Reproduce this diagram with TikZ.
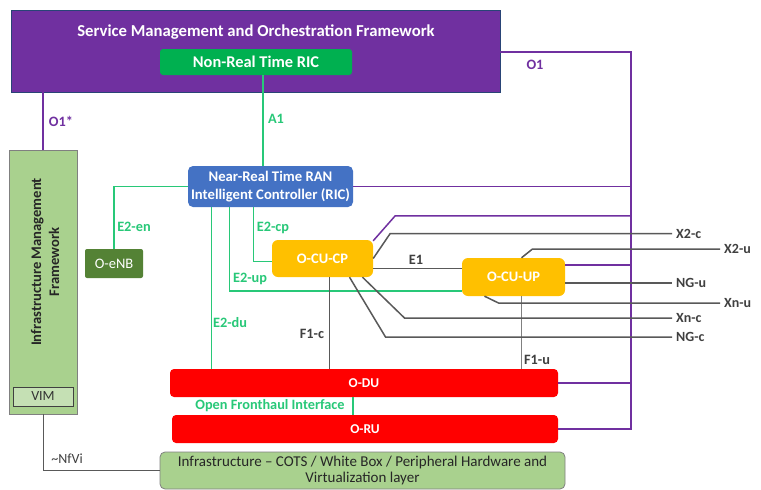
\documentclass[tikz,border=0pt]{standalone}
\usepackage{fontspec}
\setmainfont{Carlito}
\usetikzlibrary{calc}

\definecolor{smopurple}{HTML}{7030A0}
\definecolor{ricgreen}{HTML}{00B050}
\definecolor{ricblue}{HTML}{4472C4}
\definecolor{cugold}{HTML}{FFC000}
\definecolor{infragreen}{HTML}{A9D18E}
\definecolor{vimgreen}{HTML}{C5E0B4}
\definecolor{enbgreen}{HTML}{548235}
\definecolor{ifgreen}{RGB}{40,200,120}
\definecolor{ifgray}{HTML}{595959}
\definecolor{txtgray}{HTML}{404040}

\tikzset{
	box/.style={inner sep=0pt, text=white, align=center, font=\fontsize{14.5}{17.5}\selectfont\bfseries},
	purp/.style={draw=smopurple, line width=1.5pt},
	grn/.style={draw=ifgreen, line width=1.4pt},
	gry/.style={draw=ifgray, line width=1.5pt},
	lbl/.style={inner sep=1pt, font=\fontsize{14.3}{16}\selectfont\bfseries},
	rlbl/.style={anchor=west, inner sep=4pt, text=txtgray, font=\fontsize{14}{16}\selectfont\bfseries},
}

\begin{document}
\begin{tikzpicture}[x=1pt, y=-1pt]
			%%%%% START %%%%%
			\useasboundingbox (0,0) rectangle (761,490);
			\fill[white] (0,0) rectangle (761,490);
			
			\node[box, fill=smopurple, draw=ricblue!60!black, line width=0.6pt, minimum width=489pt, minimum height=82pt] (smo) at (255.5,51) {};
			\node[box, font=\fontsize{16.7}{19}\selectfont\bfseries] (smotitle) at (256,32) {Service Management and Orchestration Framework};
			\node[box, fill=ricgreen, rounded corners=3pt, minimum width=192pt, minimum height=26pt, font=\fontsize{16.4}{19}\selectfont\bfseries] (nrtric) at (256,62) {Non-Real Time RIC};
			
			\node[box, fill=infragreen, draw=gray, line width=0.8pt, minimum width=68pt, minimum height=264pt] (imf) at (43,282) {};
			\node[box, text=black!85, rotate=90, font=\fontsize{14.6}{18}\selectfont\bfseries] (imftext) at (45,262) {Infrastructure Management\\Framework};
			\node[box, fill=vimgreen, draw=black!75, line width=0.8pt, minimum width=60pt, minimum height=19pt, text=black!80, font=\fontsize{14}{16}\selectfont] (vim) at (43,396.5) {VIM};
			
			\node[box, fill=ricblue, rounded corners=5pt, minimum width=165pt, minimum height=41pt, font=\fontsize{14.7}{17.7}\selectfont\bfseries] (ric) at (270.5,186.5) {Near-Real Time RAN\\Intelligent Controller (RIC)};
			\node[box, fill=enbgreen, rounded corners=2pt, minimum width=58pt, minimum height=29pt, font=\fontsize{14.5}{17}\selectfont] (oenb) at (114,263.5) {O-eNB};
			
			\node[box, fill=cugold, rounded corners=6pt, minimum width=101pt, minimum height=37pt] (ocucp) at (322.5,258.5) {O-CU-CP};
			\node[box, fill=cugold, rounded corners=6pt, minimum width=103pt, minimum height=38pt] (ocuup) at (513.5,277) {O-CU-UP};
			
			\node[box, fill=red, rounded corners=4pt, minimum width=388pt, minimum height=28pt, font=\fontsize{13.5}{16}\selectfont\bfseries] (odu) at (364,383) {O-DU};
			\node[box, fill=red, rounded corners=4pt, minimum width=386pt, minimum height=28pt, font=\fontsize{13.5}{16}\selectfont\bfseries] (oru) at (365,429) {O-RU};
			\node[box, fill=infragreen, draw=gray, line width=0.8pt, rounded corners=5pt, minimum width=405pt, minimum height=37pt, text=black!85, font=\fontsize{15}{16.7}\selectfont] (infra) at (362.5,470.5) {Infrastructure -- COTS / White Box / Peripheral Hardware and\\Virtualization layer};
			
			% O1 bus
			\coordinate (bustop) at (631,52);
			\draw[purp] (smo.south -| imf.north) -- (imf.north);
			\draw[purp] (smo.east |- bustop) -- (bustop) -- (bustop |- oru.east) -- (oru.east);
			\draw[purp] (odu.east) -- (odu.east -| bustop);
			\draw[purp] (ric.east) -- (ric.east -| bustop);
			\draw[purp] ([yshift=-1pt]ocucp.north east) -- ++(22,-25) coordinate (cpk) -- (cpk -| bustop);
			\draw[purp] ([yshift=12pt]ocuup.east) -- ([yshift=12pt]ocuup.east -| bustop);
			
			% E2 and A1
			\draw[grn] ([xshift=7pt]nrtric.south) -- ([xshift=7pt]nrtric.south |- ric.north);
			\draw[grn] (ric.west) -| (oenb.north);
			\draw[grn] ([xshift=-17pt]ric.south) |- ([yshift=-3pt]ocucp.west);
			\draw[grn] ([xshift=-41pt]ric.south) |- ([yshift=-14pt]ocuup.west);
			\draw[grn] ([xshift=-59pt]ric.south) -- ([xshift=-59pt]ric.south |- odu.north);
			\draw[grn] (odu.south -| 353,0) -- (oru.north -| 353,0);
			
			% right hand labels
			\node[rlbl] (x2c) at (672,233.5) {X2-c};
			\node[rlbl] (x2u) at (720,249) {X2-u};
			\node[rlbl] (ngu) at (672,283) {NG-u};
			\node[rlbl] (xnu) at (720,303) {Xn-u};
			\node[rlbl] (xnc) at (672,318) {Xn-c};
			\node[rlbl] (ngc) at (672,337) {NG-c};
			
			% F1, E1, X2, Xn, NG
			\draw[gry] ([yshift=-10pt]ocucp.east) -- ([yshift=-10pt]ocucp.east -| ocuup.west);
			\draw[gry] ([xshift=7pt]ocucp.south) -- ([xshift=7pt]ocucp.south |- odu.north);
			\draw[gry, draw=gray] ([xshift=8pt]ocuup.south) -- ([xshift=8pt]ocuup.south |- odu.north);
			\draw[gry] (ocucp.east) -- ([xshift=17pt]ocucp.east |- x2c.west) -- (x2c.west);
			\draw[gry] ([xshift=8pt]ocuup.north) -- ([xshift=19pt]ocuup.north |- x2u.west) -- (x2u.west);
			\draw[gry, line width=2.2pt] ([yshift=-6pt]ocuup.east) -- (ngu.west);
			\draw[gry] ([xshift=-29pt]ocuup.south) -- ([xshift=-15pt]ocuup.south |- xnu.west) -- (xnu.west);
			\draw[gry] ([xshift=40pt]ocucp.south) -- ([xshift=82pt]ocucp.south |- xnc.west) -- (xnc.west);
			\draw[gry] ([xshift=27pt]ocucp.south) -- ([xshift=63pt]ocucp.south |- ngc.west) -- (ngc.west);
			
			\draw[gry, line width=1pt] (imf.south) |- (infra.west);
			
			% link labels
			\node[lbl, text=smopurple] (lo1s) at (61,121) {O1*};
			\node[lbl, text=smopurple] (lo1) at (535,65) {O1};
			\node[lbl, text=ifgreen] (la1) at (276,119) {A1};
			\node[lbl, text=ifgreen] (le2en) at (134,227) {E2-en};
			\node[lbl, text=ifgreen] (le2cp) at (273,228) {E2-cp};
			\node[lbl, text=ifgreen] (le2up) at (250,279) {E2-up};
			\node[lbl, text=ifgreen] (le2du) at (230,323) {E2-du};
			\node[lbl, text=ifgreen] (lofh) at (270,406) {Open Fronthaul Interface};
			\node[lbl, text=txtgray] (le1) at (416,260) {E1};
			\node[lbl, text=txtgray] (lf1c) at (312,334) {F1-c};
			\node[lbl, text=txtgray] (lf1u) at (537,360) {F1-u};
			\node[lbl, text=txtgray, font=\fontsize{14}{16}\selectfont] (lnfvi) at (67,459) {\textasciitilde NfVi};
			
			%%%%% END %%%%%
\end{tikzpicture}
\end{document}
